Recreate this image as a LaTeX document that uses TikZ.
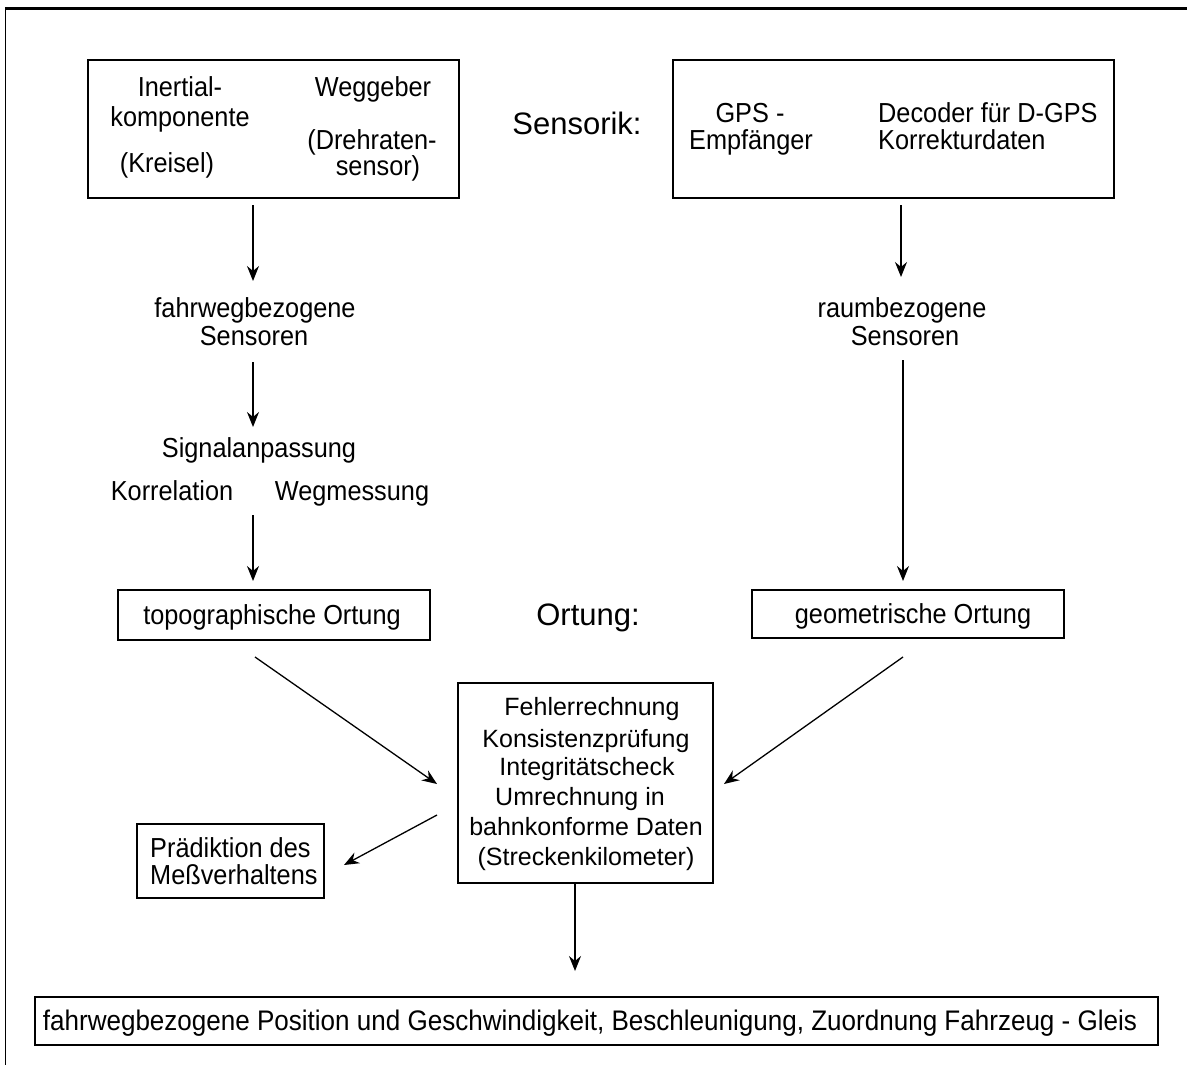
\documentclass[tikz,border=0pt]{standalone}
\usepackage{fontspec}
\setmainfont{Liberation Sans}
\newfontfamily\condfont{Liberation Sans}[FakeStretch=0.92]
\usetikzlibrary{arrows.meta}
\begin{document}
\begin{tikzpicture}[x=1pt,y=-1pt,
  box/.style={draw,line width=1.3pt,inner sep=0pt},
  txt/.style={anchor=base,inner sep=0pt,font=\condfont\fontsize{27.5}{32}\selectfont},
  ctxt/.style={anchor=base,inner sep=0pt,font=\fontsize{25}{30}\selectfont},
  big/.style={anchor=base,inner sep=0pt,font=\fontsize{31}{36}\selectfont},
  arr/.style={line width=1.3pt,-{Stealth[length=15pt,width=12pt,inset=5pt]}}]
\useasboundingbox (0,0) rectangle (1187,1065);
% frame
\draw[line width=3pt] (5,9) -- (1187,9);
\draw[line width=1.5pt] (5.5,8) -- (5.5,1065);
% sensor boxes
\node[box,minimum width=371pt,minimum height=138pt] (b1) at (273.5,129) {};
\node[txt] (t1a) at (180,96) {Inertial-};
\node[txt] (t1b) at (180,127) {komponente};
\node[txt] (t1c) at (167,172) {(Kreisel)};
\node[txt] (t1d) at (373,96) {Weggeber};
\node[txt] (t1e) at (372,149) {(Drehraten-};
\node[txt] (t1f) at (378,175) {sensor)};
\node[box,minimum width=441pt,minimum height=138pt] (b2) at (893.5,129) {};
\node[txt] (t2a) at (750,122) {GPS -};
\node[txt] (t2b) at (751,149) {Empfänger};
\node[txt,anchor=base west] (t2c) at (878,122) {Decoder für D-GPS};
\node[txt,anchor=base west] (t2d) at (878,149) {Korrekturdaten};
\node[big] (sens) at (577,135) {Sensorik:};
% left column
\node[txt] (fw1) at (255,317) {fahrwegbezogene};
\node[txt] (fw2) at (254,345) {Sensoren};
\node[txt] (sig) at (259,457) {Signalanpassung};
\node[txt] (kor) at (172,500) {Korrelation};
\node[txt] (weg) at (352,500) {Wegmessung};
\node[box,minimum width=312pt,minimum height=50pt] (topo) at (274,615) {};
\node[txt] (topot) at (272,624) {topographische Ortung};
% right column
\node[txt] (rb1) at (902,317) {raumbezogene};
\node[txt] (rb2) at (905,345) {Sensoren};
\node[box,minimum width=312pt,minimum height=48pt] (geo) at (908,614) {};
\node[txt] (geot) at (913,623) {geometrische Ortung};
\node[big] (ort) at (588,625) {Ortung:};
% centre box
\node[box,minimum width=255pt,minimum height=200pt] (fe) at (585.5,783) {};
\node[ctxt] (fe1) at (592,715) {Fehlerrechnung};
\node[ctxt] (fe2) at (586,747) {Konsistenzprüfung};
\node[ctxt] (fe3) at (587,775) {Integritätscheck};
\node[ctxt] (fe4) at (580,805) {Umrechnung in};
\node[ctxt] (fe5) at (586,835) {bahnkonforme Daten};
\node[ctxt] (fe6) at (586,865) {(Streckenkilometer)};
% prediction box
\node[box,minimum width=187pt,minimum height=74pt] (pr) at (230.5,861) {};
\node[txt,anchor=base west] (pr1) at (150,857) {Prädiktion des};
\node[txt,anchor=base west] (pr2) at (150,884) {Meßverhaltens};
% bottom box
\node[box,minimum width=1123pt,minimum height=48pt] (pos) at (596.5,1021) {};
\node[txt,font=\condfont\fontsize{28.3}{32}\selectfont] (post) at (590,1030) {fahrwegbezogene Position und Geschwindigkeit, Beschleunigung, Zuordnung Fahrzeug - Gleis};
% connector coordinates
\coordinate (a1s) at (253,205); \coordinate (a1e) at (253,281);
\coordinate (a2s) at (253,362); \coordinate (a2e) at (253,427);
\coordinate (a3s) at (253,515); \coordinate (a3e) at (253,581);
\coordinate (r1s) at (901,205); \coordinate (r1e) at (901,277);
\coordinate (r2s) at (903,360); \coordinate (r2e) at (903,581);
\coordinate (d1s) at (255,657); \coordinate (d1e) at (437,784);
\coordinate (d2s) at (903,657); \coordinate (d2e) at (724,784);
\coordinate (d3s) at (437,815); \coordinate (d3e) at (344,865);
\coordinate (d4s) at (575,884); \coordinate (d4e) at (575,971);
\foreach \s/\e in {a1s/a1e,a2s/a2e,a3s/a3e,r1s/r1e,r2s/r2e,d1s/d1e,d2s/d2e,d3s/d3e,d4s/d4e}
  \draw[arr] (\s) -- (\e);
\end{tikzpicture}
\end{document}
